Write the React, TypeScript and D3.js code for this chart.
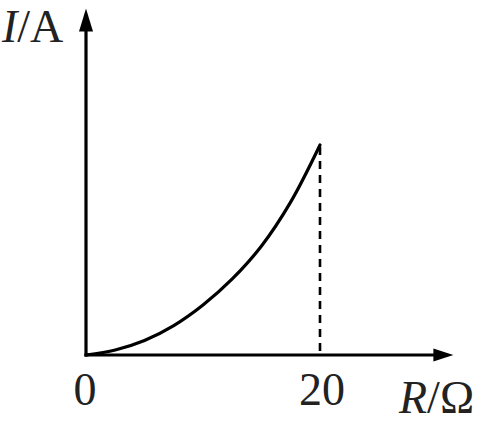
import React from 'react';
import * as d3 from 'd3';

// I–R curve (I normalised so that I(20) = 1)
const rValues = [0, 2.5, 5, 7.5, 10, 12.5, 15, 17.5, 20];
const iValues = [0, 0.024, 0.069, 0.14, 0.238, 0.362, 0.519, 0.729, 1.0];
const xTicks = ['0', '20'];
const tickValues = [0, 20];

const W = 491;
const H = 430;

const App: React.FC = () => {
  const x = d3.scaleLinear().domain([0, 20]).range([86, 320]);
  const y = d3.scaleLinear().domain([0, 1]).range([355, 145]);

  const xEnd = 31.4; // where the x arrow tip sits
  const yEnd = 1.65; // where the y arrow tip sits

  const pts: [number, number][] = rValues.map((r, i) => [x(r), y(iValues[i])]);
  const line = d3.line().curve(d3.curveCatmullRom.alpha(0.5))(pts) || '';

  const x0 = x(0);
  const y0 = y(0);
  const xt = x(xEnd);
  const yt = y(yEnd);
  const font = '"Liberation Serif", "Times New Roman", serif';
  const last = rValues.length - 1;

  return (
    <svg
      width={W}
      height={H}
      style={{ position: 'absolute', left: 0, top: 0, background: '#fff' }}
    >
      {/* axes */}
      <line x1={x0} y1={y0 + 1.5} x2={x0} y2={yt + 20} stroke="#000" strokeWidth={3.2} />
      <line x1={x0 - 1.5} y1={y0} x2={xt - 16} y2={y0} stroke="#000" strokeWidth={3.2} />
      <path d={`M${x0},${yt} L${x0 - 7},${yt + 23} L${x0 + 7},${yt + 23} Z`} fill="#000" />
      <path d={`M${xt},${y0} L${xt - 20},${y0 - 6.5} L${xt - 20},${y0 + 6.5} Z`} fill="#000" />

      {/* dashed drop line */}
      <line
        x1={x(rValues[last])}
        y1={y(iValues[last]) + 2}
        x2={x(rValues[last])}
        y2={y0}
        stroke="#000"
        strokeWidth={2.6}
        strokeDasharray="8,6"
      />

      {/* curve */}
      <path d={line} fill="none" stroke="#000" strokeWidth={3.2} strokeLinecap="round" />

      {/* tick labels */}
      {tickValues.map((v, i) => (
        <text
          key={v}
          x={x(v) + (i === 0 ? -1 : 2)}
          y={405}
          textAnchor="middle"
          fontFamily={font}
          fontSize={46}
          fill="#222"
        >
          {xTicks[i]}
        </text>
      ))}

      {/* axis titles */}
      <text x={2} y={42} fontFamily={font} fontSize={46} fill="#222">
        <tspan fontStyle="italic">I</tspan>/A
      </text>
      <text x={399} y={413} fontFamily={font} fontSize={46} fill="#222">
        <tspan fontStyle="italic">R</tspan>/Ω
      </text>
    </svg>
  );
};

export default App;
